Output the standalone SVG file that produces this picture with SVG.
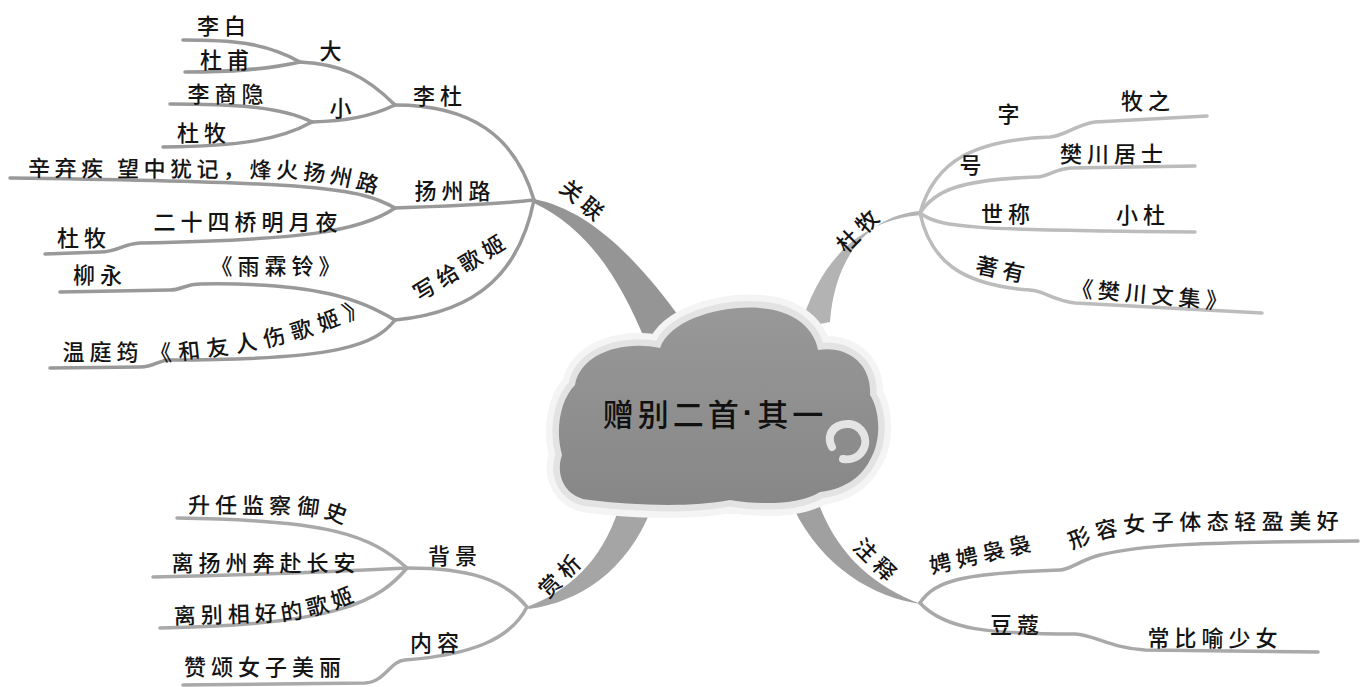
<svg xmlns="http://www.w3.org/2000/svg" width="1362" height="687" viewBox="0 0 1362 687">
<style>
text{font-family:"Noto Sans CJK SC","Noto Sans CJK JP",sans-serif;font-size:22px;font-weight:500;fill:#141414;letter-spacing:5px;text-anchor:middle;dominant-baseline:central}
.tp{text-anchor:start;dominant-baseline:auto}
.title{font-size:31px;fill:#111;letter-spacing:4px}
.dot{font-family:"Liberation Sans",sans-serif;font-weight:700}
.l{fill:none;stroke-width:3.5;stroke-linecap:round;stroke-linejoin:round}
.lg{stroke:#999}
.rg{stroke:#bcbcbc}
.bg{stroke:#a9a9a9}
</style>
<defs>
<linearGradient id="cg" x1="0" y1="0" x2="0" y2="1">
<stop offset="0" stop-color="#989898"/>
<stop offset="1" stop-color="#878787"/>
</linearGradient>
<path id="p1" d="M 28,176 L 290,178 Q 345,182 402,202"/>
<path id="p2" d="M 150,362 C 250,356 325,338 386,302"/>
<path id="p3" d="M 188,513 L 300,514 Q 340,517 370,540"/>
<path id="p4" d="M 174,624 L 280,621 Q 330,616 374,592"/>
<path id="p5" d="M 1072,550 Q 1110,532 1160,530 L 1362,529"/>
<path id="cloud" d="M 590,500 C 565,498 555,475 562,455 C 555,430 560,400 575,385 C 580,355 620,340 660,348 C 670,320 720,305 760,308 C 795,310 815,330 818,350 C 845,345 872,362 870,395 C 880,410 882,440 870,460 C 860,480 840,490 820,492 C 800,505 760,505 730,500 C 690,508 630,505 590,500 Z"/>
</defs>

<g id="connectors">
<path d="M 534,199 C 590,210 640,260 690,332 L 646,342 C 620,280 590,230 534,203 Z" fill="#959595"/>
<path d="M 921,211 C 870,215 835,255 830,322 L 800,328 C 820,260 860,220 921,215 Z" fill="#b3b3b3"/>
<path d="M 527,607 C 570,590 605,560 622,498 L 654,502 C 630,570 580,602 529,609 Z" fill="#a5a5a5"/>
<path d="M 786,490 L 814,490 C 832,550 870,585 921,604 C 870,597 812,562 786,490 Z" fill="#a0a0a0"/>
<path class="l lg" d="M 534,200 C 515,135 470,105 395,105"/>
<path class="l lg" d="M 395,105 C 365,75 340,64 300,62"/>
<path class="l lg" d="M 300,62 C 265,42 230,40 183,40"/>
<path class="l lg" d="M 300,62 C 265,70 230,72 185,72"/>
<path class="l lg" d="M 395,105 C 370,117 345,121 312,122"/>
<path class="l lg" d="M 312,122 C 280,106 230,104 170,104"/>
<path class="l lg" d="M 312,122 C 280,140 240,146 163,147"/>
<path class="l lg" d="M 534,200 C 500,204 450,206 395,208"/>
<path class="l lg" d="M 395,208 C 360,188 320,182 10,178"/>
<path class="l lg" d="M 395,208 C 360,232 300,240 140,243 C 122,244 118,252 100,252 L 45,254"/>
<path class="l lg" d="M 534,200 C 520,270 480,312 395,320"/>
<path class="l lg" d="M 395,320 C 360,300 320,282 200,284 C 185,284 182,290 170,290 L 60,292"/>
<path class="l lg" d="M 395,320 C 375,345 340,360 170,360 C 158,360 155,367 140,367 L 50,368"/>
<path class="l rg" d="M 920,213 C 935,160 975,140 1050,137 C 1065,136 1075,125 1095,122 L 1207,116"/>
<path class="l rg" d="M 920,213 C 935,190 960,180 1035,177 C 1048,177 1052,170 1070,168 L 1195,166"/>
<path class="l rg" d="M 920,213 C 940,228 970,230 1195,232"/>
<path class="l rg" d="M 920,213 C 930,260 960,285 1030,290 C 1045,291 1052,300 1075,303 L 1262,313"/>
<path class="l bg" d="M 527,607 C 505,580 470,568 407,568"/>
<path class="l bg" d="M 407,568 C 370,535 330,520 177,518"/>
<path class="l bg" d="M 407,568 C 330,572 250,575 153,577"/>
<path class="l bg" d="M 407,568 C 380,600 340,625 160,628"/>
<path class="l bg" d="M 527,607 C 510,640 470,655 405,660 C 390,661 385,682 365,683 L 183,685"/>
<path class="l bg" d="M 920,603 C 935,580 965,573 1060,570 C 1070,570 1080,560 1100,555 C 1140,545 1200,542 1358,541"/>
<path class="l bg" d="M 920,603 C 945,630 990,634 1075,634 C 1095,635 1110,648 1145,650 L 1318,652"/>
</g>

<g id="center">
<use href="#cloud" fill="none" stroke="#f4f4f4" stroke-width="26" stroke-linejoin="round"/>
<use href="#cloud" fill="none" stroke="#e3e3e3" stroke-width="13" stroke-linejoin="round"/>
<use href="#cloud" fill="url(#cg)"/>
<path d="M 832,447 C 822,428 848,416 861,430 C 872,444 860,462 843,459" fill="none" stroke="#e4e4e4" stroke-width="8" stroke-linecap="round"/>
<text class="title" x="715" y="412">赠别二首<tspan class="dot">·</tspan>其一</text>
</g>

<g id="n-guanlian"><text x="585" y="200" transform="rotate(40 585 200)">关联</text></g>
<g id="n-lidu"><text x="440" y="94">李杜</text></g>
<g id="n-da"><text x="333" y="49">大</text></g>
<g id="n-libai"><text x="224" y="24">李白</text></g>
<g id="n-dufu"><text x="227" y="58">杜甫</text></g>
<g id="n-xiao"><text x="343" y="106">小</text></g>
<g id="n-lishangyin"><text x="228" y="92">李商隐</text></g>
<g id="n-dumu1"><text x="204" y="131">杜牧</text></g>
<g id="n-yangzhoulu"><text x="455" y="189">扬州路</text></g>
<g id="n-xinqiji"><text class="tp" style="letter-spacing:4.5px"><textPath href="#p1">辛弃疾 望中犹记，烽火扬州路</textPath></text></g>
<g id="n-ershisi"><text x="248" y="220">二十四桥明月夜</text></g>
<g id="n-dumu2"><text x="84" y="236">杜牧</text></g>
<g id="n-xiegei"><text x="460" y="265" transform="rotate(-32 460 265)">写给歌姬</text></g>
<g id="n-yulinling"><text x="278" y="264">《雨霖铃》</text></g>
<g id="n-liuyong"><text x="100" y="273">柳永</text></g>
<g id="n-heyouren"><text class="tp" style="letter-spacing:7px"><textPath href="#p2">《和友人伤歌姬》</textPath></text></g>
<g id="n-wentingyun"><text x="103" y="350">温庭筠</text></g>

<g id="n-dumu"><text x="858" y="228" transform="rotate(-45 858 228)">杜牧</text></g>
<g id="n-zi"><text x="1011" y="112">字</text></g>
<g id="n-muzhi"><text x="1148" y="99">牧之</text></g>
<g id="n-hao"><text x="973" y="163">号</text></g>
<g id="n-fanchuanjushi"><text x="1114" y="152">樊川居士</text></g>
<g id="n-shicheng"><text x="1008" y="212">世称</text></g>
<g id="n-xiaodu"><text x="1143" y="213">小杜</text></g>
<g id="n-zhuyou"><text x="1003" y="268" transform="rotate(12 1003 268)">著有</text></g>
<g id="n-wenji"><text x="1152" y="293" transform="rotate(5 1152 293)">《樊川文集》</text></g>

<g id="n-shangxi"><text x="560" y="573" transform="rotate(-45 560 573)">赏析</text></g>
<g id="n-beijing"><text x="455" y="554">背景</text></g>
<g id="n-shengren"><text class="tp"><textPath href="#p3">升任监察御史</textPath></text></g>
<g id="n-liyangzhou"><text x="266" y="561">离扬州奔赴长安</text></g>
<g id="n-libie"><text class="tp"><textPath href="#p4">离别相好的歌姬</textPath></text></g>
<g id="n-neirong"><text x="437" y="641">内容</text></g>
<g id="n-zansong"><text x="265" y="665">赞颂女子美丽</text></g>

<g id="n-zhushi"><text x="878" y="560" transform="rotate(45 878 560)">注释</text></g>
<g id="n-pingping"><text x="982" y="552" transform="rotate(-13 982 552)">娉娉袅袅</text></g>
<g id="n-xingrong"><text class="tp" style="letter-spacing:5.5px"><textPath href="#p5">形容女子体态轻盈美好</textPath></text></g>
<g id="n-doukou"><text x="1017" y="623">豆蔻</text></g>
<g id="n-changbiyu"><text x="1215" y="636">常比喻少女</text></g>
</svg>
